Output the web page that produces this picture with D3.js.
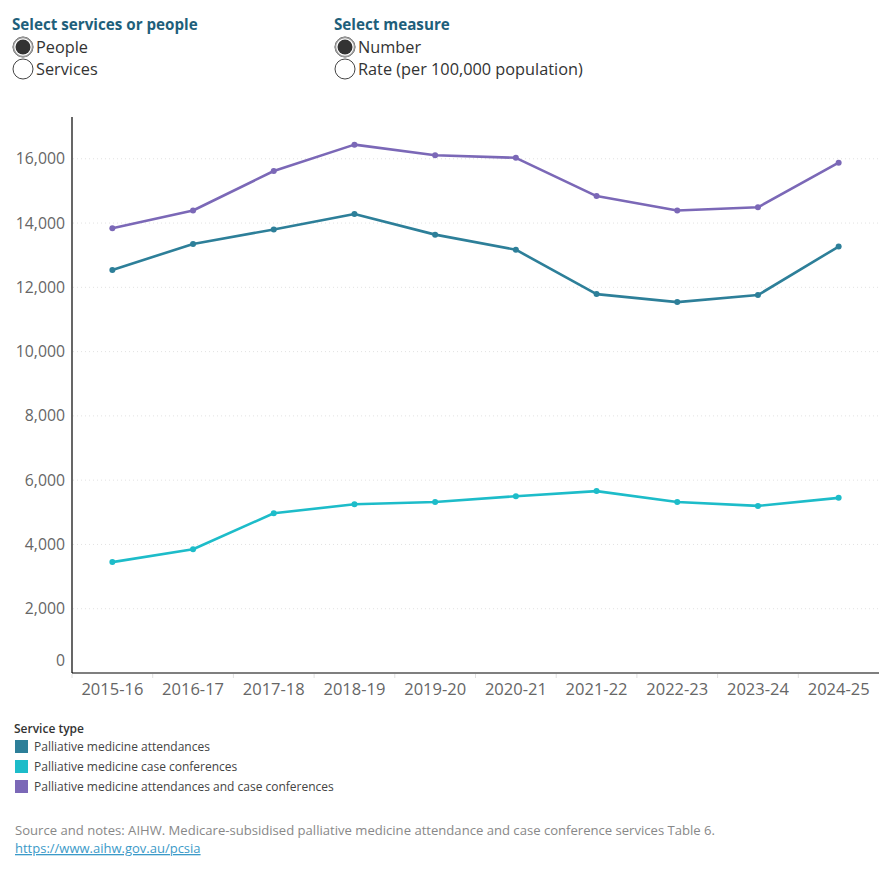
<!DOCTYPE html>
<html><head><meta charset="utf-8">
<script src="https://cdn.jsdelivr.net/npm/d3@7"></script>
<style>
body{margin:0;background:#fff;}
svg{display:block;font-family:"Open Sans","Noto Sans",sans-serif;}
</style></head>
<body>
<svg id="chart" width="890" height="880"></svg>
<script>
const years = ["2015-16","2016-17","2017-18","2018-19","2019-20","2020-21","2021-22","2022-23","2023-24","2024-25"];
const attendances = [12540,13350,13800,14280,13640,13170,11790,11540,11760,13270];
const caseConferences = [3450,3850,4970,5250,5320,5500,5660,5320,5200,5450];
const combined = [13840,14390,15620,16440,16110,16030,14840,14390,14490,15880];
const seriesNames = ["Palliative medicine attendances","Palliative medicine case conferences","Palliative medicine attendances and case conferences"];
const seriesColors = ["#2d7f99","#1dbcc9","#7b68b7"];
const yTicks = [0,2000,4000,6000,8000,10000,12000,14000,16000];

const svg = d3.select("#chart");

// Controls
function radioGroup(x, title, options, selected){
  const g = svg.append("g");
  g.append("text").attr("x",x).attr("y",30).text(title)
    .attr("font-size",15.2).attr("font-weight",700).attr("fill","#1e5f7b");
  options.forEach((o,i)=>{
    const cy = 47 + i*22;
    g.append("circle").attr("cx",x+11).attr("cy",cy).attr("r",10)
      .attr("fill","#fff").attr("stroke","#444").attr("stroke-width",1);
    if(i===selected){
      g.append("circle").attr("cx",x+11).attr("cy",cy).attr("r",9.5)
        .attr("fill","#fff").attr("stroke","#999").attr("stroke-width",1.5);
      g.append("circle").attr("cx",x+11).attr("cy",cy).attr("r",7.5).attr("fill","#333");
    }
    g.append("text").attr("x",x+24).attr("y",cy+5.5).text(o)
      .attr("font-size",16.3).attr("fill","#333");
  });
}
radioGroup(12, "Select services or people", ["People","Services"], 0);
radioGroup(334, "Select measure", ["Number","Rate (per 100,000 population)"], 0);

// Scales
const x = d3.scaleBand().domain(years).range([72,879]);
const y = d3.scaleLinear().domain([0,17300]).range([673,117]);

// gridlines
svg.append("g").selectAll("line").data(yTicks.filter(d=>d>0)).join("line")
  .attr("x1",73).attr("x2",879).attr("y1",d=>y(d)).attr("y2",d=>y(d))
  .attr("stroke","#e2e2e2").attr("stroke-width",1).attr("stroke-dasharray","1,3");

// y axis labels
const yAxis = d3.axisLeft(y).tickValues(yTicks).tickFormat(d3.format(",")).tickSize(0).tickPadding(7);
const yg = svg.append("g").attr("transform","translate(72,0)").call(yAxis);
yg.select(".domain").remove();
yg.selectAll("text").attr("font-size",15.8).attr("fill","#666")
  .attr("font-family","'Open Sans','Noto Sans',sans-serif")
  .attr("dy",(d)=> d===0 ? "-0.45em" : "0.32em");

// x axis
const xAxis = d3.axisBottom(x).tickSize(0).tickPadding(10);
const xg = svg.append("g").attr("transform","translate(0,673)").call(xAxis);
xg.select(".domain").remove();
xg.selectAll("text").attr("font-size",16.5).attr("fill","#666")
  .attr("font-family","'Open Sans','Noto Sans',sans-serif");
// small band separators below axis
svg.append("g").selectAll("line").data(years).join("line")
  .attr("x1",d=>x(d)).attr("x2",d=>x(d)).attr("y1",674).attr("y2",678)
  .attr("stroke","#e0e0e0");

// axis lines
svg.append("line").attr("x1",72).attr("x2",72).attr("y1",117).attr("y2",673).attr("stroke","#000").attr("stroke-width",1.2);
svg.append("line").attr("x1",72).attr("x2",879).attr("y1",673).attr("y2",673).attr("stroke","#000").attr("stroke-width",1.2);

// lines
const data = [attendances, caseConferences, combined];
const line = d3.line().x((d,i)=>x(years[i])+x.bandwidth()/2).y(d=>y(d));
data.forEach((vals,k)=>{
  svg.append("path").datum(vals).attr("d",line).attr("fill","none")
    .attr("stroke",seriesColors[k]).attr("stroke-width",2.6).attr("stroke-linejoin","round");
  svg.append("g").selectAll("circle").data(vals).join("circle")
    .attr("cx",(d,i)=>x(years[i])+x.bandwidth()/2).attr("cy",d=>y(d)).attr("r",3)
    .attr("fill",seriesColors[k]);
});

// legend
svg.append("text").attr("x",14).attr("y",733).text("Service type")
  .attr("font-size",12).attr("font-weight",600).attr("fill","#333");
seriesNames.forEach((n,i)=>{
  const yy = 740 + i*20;
  svg.append("rect").attr("x",15).attr("y",yy).attr("width",13).attr("height",13).attr("fill",seriesColors[i]);
  svg.append("text").attr("x",34).attr("y",yy+11).text(n).attr("font-size",12).attr("fill","#444");
});

// source
svg.append("text").attr("x",15).attr("y",835)
  .text("Source and notes: AIHW. Medicare-subsidised palliative medicine attendance and case conference services Table 6.")
  .attr("font-size",13).attr("fill","#888").attr("textLength",700).attr("lengthAdjust","spacingAndGlyphs");
svg.append("text").attr("x",15).attr("y",853).text("https://www.aihw.gov.au/pcsia")
  .attr("font-size",13).attr("fill","#3b9ac8").attr("text-decoration","underline");
</script>
</body></html>
